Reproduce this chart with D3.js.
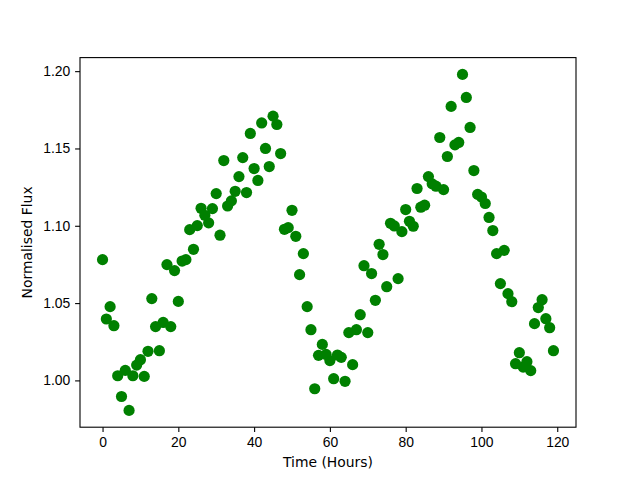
<!DOCTYPE html>
<html>
<head>
<meta charset="utf-8">
<script src="https://cdn.jsdelivr.net/npm/d3@7"></script>
<style>
	body { margin: 0; background: #fff; }
	svg { display: block; font-family: "DejaVu Sans", sans-serif; }
	.tick text { font-size: 13.9px; fill: #000; }
	.tick line, .domain { stroke: #000; stroke-width: 1.1; }
</style>
</head>
<body>
<script>
// Scatter of normalised flux against time
const width = 640;
const height = 480;
const margin = {top: 57.6, right: 64, bottom: 52.8, left: 80};

// hours 0..119, one sample per hour
const hours = d3.range(0, 120);
const flux = [
	1.0781, 1.0397, 1.0477, 1.0354, 1.0030, 0.9896, 1.0065, 0.9806, 1.0030, 1.0099,
	1.0134, 1.0026, 1.0188, 1.0529, 1.0348, 1.0192, 1.0375, 1.0749, 1.0348, 1.0710,
	1.0511, 1.0772, 1.0781, 1.0975, 1.0848, 1.1001, 1.1113, 1.1068, 1.1019, 1.1111,
	1.1208, 1.0939, 1.1422, 1.1128, 1.1161, 1.1223, 1.1318, 1.1441, 1.1215, 1.1597,
	1.1370, 1.1293, 1.1665, 1.1500, 1.1383, 1.1709, 1.1655, 1.1467, 1.0977, 1.0988,
	1.1100, 1.0932, 1.0684, 1.0820, 1.0477, 1.0328, 0.9946, 1.0162, 1.0233, 1.0168,
	1.0128, 1.0011, 1.0164, 1.0149, 0.9994, 1.0309, 1.0102, 1.0328, 1.0425, 1.0742,
	1.0309, 1.0691, 1.0518, 1.0880, 1.0814, 1.0606, 1.1016, 1.0999, 1.0658, 1.0962,
	1.1105, 1.1029, 1.0997, 1.1241, 1.1120, 1.1133, 1.1318, 1.1271, 1.1256, 1.1571,
	1.1234, 1.1448, 1.1772, 1.1523, 1.1539, 1.1979, 1.1830, 1.1636, 1.1357, 1.1203,
	1.1186, 1.1144, 1.1054, 1.0969, 1.0820, 1.0626, 1.0841, 1.0561, 1.0509, 1.0108,
	1.0179, 1.0086, 1.0121, 1.0063, 1.0367, 1.0471, 1.0522, 1.0399, 1.0341, 1.0192
];

const xTicks = [0, 20, 40, 60, 80, 100, 120];
const yTicks = [1.00, 1.05, 1.10, 1.15, 1.20];

const data = hours.map((h, i) => ({hour: h, value: flux[i]}));

// matplotlib style 5% padding on the data extent
function padded(ext) {
	const pad = (ext[1] - ext[0]) * 0.05;
	return [ext[0] - pad, ext[1] + pad];
}

const svg = d3.select('body')
	.append('svg')
	.attr('width', width)
	.attr('height', height);

const xScale = d3.scaleLinear()
	.domain(padded(d3.extent(hours)))
	.range([margin.left, width - margin.right]);

const yScale = d3.scaleLinear()
	.domain(padded(d3.extent(flux)))
	.range([height - margin.bottom, margin.top]);

svg.append('g')							// Points
	.selectAll('circle')
	.data(data)
	.join('circle')
	.attr('cx', d => xScale(d.hour))
	.attr('cy', d => yScale(d.value))
	.attr('r', 5.6)
	.attr('fill', '#008000');

svg.append('rect')						// Frame
	.attr('x', margin.left)
	.attr('y', margin.top)
	.attr('width', width - margin.left - margin.right)
	.attr('height', height - margin.top - margin.bottom)
	.attr('fill', 'none')
	.attr('stroke', '#000')
	.attr('stroke-width', 1.1);

svg.append('g')							// X-axis
	.attr('transform', `translate(0, ${height - margin.bottom})`)
	.call(d3.axisBottom(xScale).tickValues(xTicks).tickSizeOuter(0)
		.tickSize(4.9).tickPadding(4.9).tickFormat(d3.format('d')))
	.call(g => g.select('.domain').remove());

svg.append('g')							// Y-axis
	.attr('transform', `translate(${margin.left}, 0)`)
	.call(d3.axisLeft(yScale).tickValues(yTicks).tickSizeOuter(0)
		.tickSize(4.9).tickPadding(4.9).tickFormat(d3.format('.2f')))
	.call(g => g.select('.domain').remove());

svg.append('text')
	.attr('x', (margin.left + width - margin.right) / 2)
	.attr('y', 467)
	.attr('text-anchor', 'middle')
	.attr('font-size', '13.9px')
	.text('Time (Hours)');

svg.append('text')
	.attr('transform', `translate(32, ${(margin.top + height - margin.bottom) / 2}) rotate(-90)`)
	.attr('text-anchor', 'middle')
	.attr('font-size', '13.9px')
	.text('Normalised Flux');
</script>
</body>
</html>
